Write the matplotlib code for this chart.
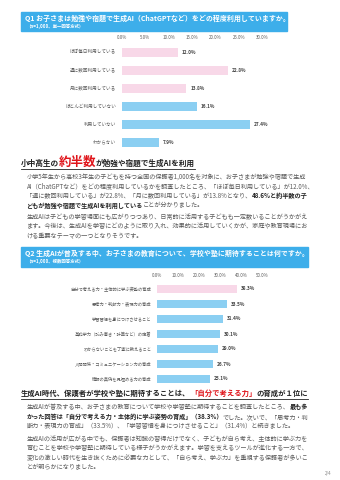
import matplotlib
matplotlib.use('Agg')
import matplotlib.pyplot as plt
from matplotlib.patches import Rectangle
from matplotlib.lines import Line2D

# ---------------- data ----------------
q1_title = "Q1 お子さまは勉強や宿題で生成AI（ChatGPTなど）をどの程度利用していますか。"
q1_sub = "（n=1,000、単一回答方式）"
q1_labels = ["ほぼ毎日利用している", "週に数回利用している", "月に数回利用している",
             "ほとんど利用していない", "利用していない", "わからない"]
q1_values = [12.0, 22.8, 13.8, 16.1, 27.4, 7.9]
q1_ticks = [0, 5, 10, 15, 20, 25, 30]
q1_n_use = 3

q2_title = "Q2 生成AIが普及する中、お子さまの教育について、学校や塾に期待することは何ですか。"
q2_sub = "（n=1,000、複数回答方式）"
q2_labels = ["自分で考える力・主体的に学ぶ姿勢の育成", "思考力・判断力・表現力の育成",
             "学習習慣を身につけさせること", "基礎学力（読み書き・計算など）の定着",
             "わからないことを丁寧に教えること", "人間関係・コミュニケーション力の育成",
             "情報の真偽を見極める力の育成"]
q2_values = [38.3, 33.5, 31.4, 30.1, 29.0, 26.7, 25.1]
q2_ticks = [0, 10, 20, 30, 40, 50]
q2_n_top = 1

head1 = [("小中高生の", "n"), ("約半数", "r"), ("が勉強や宿題で生成AIを利用", "n")]
para1 = [
    [("小学5年生から高校3年生の子どもを持つ全国の保護者1,000名を対象に、お子さまが勉強や宿題で生成", "p")],
    [("AI（ChatGPTなど）をどの程度利用しているかを調査したところ、「ほぼ毎日利用している」が12.0%、", "p")],
    [("「週に数回利用している」が22.8%、「月に数回利用している」が13.8%となり、", "p"), ("48.6%と約半数の子", "b")],
    [("どもが勉強や宿題で生成AIを利用している", "b"), ("ことが分かりました。", "p")],
    [("生成AIは子どもの学習場面にも広がりつつあり、日常的に活用する子どもも一定数いることがうかがえ", "p")],
    [("ます。今後は、生成AIを学習にどのように取り入れ、効果的に活用していくかが、家庭や教育現場にお", "p")],
    [("ける重要なテーマの一つとなりそうです。", "p")],
]
head2 = [("生成AI時代、保護者が学校や塾に期待することは、", "n"), ("「自分で考える力」", "r"), ("の育成が１位に", "n")]
para2 = [
    [("生成AIが普及する中、お子さまの教育について学校や学習塾に期待することを調査したところ、", "p"), ("最も多", "b")],
    [("かった回答は「自分で考える力・主体的に学ぶ姿勢の育成」（38.3%）", "b"), ("でした。次いで、「思考力・判", "p")],
    [("断力・表現力の育成」（33.5%）、「学習習慣を身につけさせること」（31.4%）と続きました。", "p")],
    [("生成AIの活用が広がる中でも、保護者は知識の習得だけでなく、子どもが自ら考え、主体的に学ぶ力を", "p")],
    [("育むことを学校や学習塾に期待している様子がうかがえます。学習を支えるツールが進化する一方で、", "p")],
    [("変化の激しい時代を生き抜くために必要な力として、「自ら考え、学ぶ力」を重視する保護者が多いこ", "p")],
    [("とが明らかになりました。", "p")],
]
page_no = "2/4"

# ---------------- style ----------------
plt.rcParams['font.family'] = ['Noto Sans CJK JP', 'DejaVu Sans']
W, H = 340, 480
DPI = 100
PINK = '#F8D8E8'
BLUE = '#8BCFF2'
HEAD_BLUE = '#3DAEEA'
RED = '#E0151B'
GRAY = '#5A5A5A'
DARK = '#222222'

fig = plt.figure(figsize=(W / DPI, H / DPI), dpi=DPI)
fig.patch.set_facecolor('white')
renderer = fig.canvas.get_renderer()


def fx(px):
    return px / W


def fy(py):
    return 1 - py / H


def header(x0, x1, y0, y1, title, sub, tsize):
    fig.patches.append(Rectangle((fx(x0), fy(y1)), (x1 - x0) / W, (y1 - y0) / H,
                                 transform=fig.transFigure, color=HEAD_BLUE, zorder=0))
    fig.text(fx(x0 + 4), fy(y0 + 6.5), title, color='white', fontsize=tsize,
             fontweight='bold', va='center', ha='left')
    fig.text(fx(x0 + 5), fy(y0 + 14), sub, color='white', fontsize=3.2,
             fontweight='bold', va='center', ha='left')


def rich(x, y, segs, styles):
    """draw consecutive text segments on one baseline; returns end x (px)"""
    cur = x
    for s, key in segs:
        st = styles[key]
        t = fig.text(fx(cur), fy(y), s, ha='left', va='baseline', **st)
        bb = t.get_window_extent(renderer)
        cur = bb.x1
    return cur


def bar_chart(ax, labels, values, ticks, n_pink, lab_size):
    n = len(labels)
    colors = [PINK if i < n_pink else BLUE for i in range(n)]
    ax.barh(range(n), values, height=0.5, color=colors)
    ax.set_ylim(n - 0.5, -0.5)
    ax.set_xlim(ticks[0], ticks[-1])
    ax.xaxis.tick_top()
    ax.set_xticks(ticks)
    ax.set_xticklabels([f"{t:.1f}%" for t in ticks])
    ax.tick_params(axis='x', length=0, pad=2.5, labelsize=3.2, labelcolor=GRAY)
    ax.set_yticks([])
    for sp in ax.spines.values():
        sp.set_visible(False)
    ax.patch.set_alpha(0)
    for i, (lab, v) in enumerate(zip(labels, values)):
        ax.annotate(lab, xy=(0, i), xytext=(-4, 0), textcoords='offset points',
                    ha='right', va='center', fontsize=lab_size, color=GRAY)
        ax.annotate(f"{v:.1f}%", xy=(v, i), xytext=(2.8, 0), textcoords='offset points',
                    ha='left', va='center', fontsize=3.4, color='#444444', fontweight='bold')


# ---------------- Q1 ----------------
header(21, 287, 12, 31, q1_title, q1_sub, 5.0)
ax1 = fig.add_axes([fx(121.7), fy(151), 140.4 / W, 108 / H])
bar_chart(ax1, q1_labels, q1_values, q1_ticks, q1_n_use, 3.3)

body = {'p': dict(fontsize=4.45, color=GRAY),
        'b': dict(fontsize=4.45, color=DARK, fontweight='bold')}
heads = {'n': dict(fontsize=5.5, color=DARK, fontweight='bold'),
         'r': dict(fontsize=9.0, color=RED, fontweight='bold')}

end = rich(20.5, 166, head1, heads)
fig.add_artist(Line2D([fx(20.5), fx(end)], [fy(168.5), fy(168.5)],
                      transform=fig.transFigure, color=DARK, lw=0.6))
ys1 = [179, 188.5, 198, 207.5, 219, 228.5, 238]
for y, line in zip(ys1, para1):
    rich(26.5, y, line, body)

# ---------------- Q2 ----------------
header(21, 308, 247, 267, q2_title, q2_sub, 5.0)
ax2 = fig.add_axes([fx(157), fy(386.5), 105 / W, 105 / H])
bar_chart(ax2, q2_labels, q2_values, q2_ticks, q2_n_top, 3.1)

heads2 = {'n': dict(fontsize=5.3, color=DARK, fontweight='bold'),
          'r': dict(fontsize=5.3, color=RED, fontweight='bold')}
end = rich(20.5, 396, head2, heads2)
fig.add_artist(Line2D([fx(20.5), fx(end)], [fy(398.5), fy(398.5)],
                      transform=fig.transFigure, color=DARK, lw=0.6))
ys2 = [409.5, 419, 428.5, 441, 450.5, 460, 469.5]
for y, line in zip(ys2, para2):
    rich(26.5, y, line, body)

fig.text(fx(328), fy(474), page_no, fontsize=3.2, color='#888888', ha='center', va='center')

fig.savefig('out.png', dpi=DPI, facecolor='white')
